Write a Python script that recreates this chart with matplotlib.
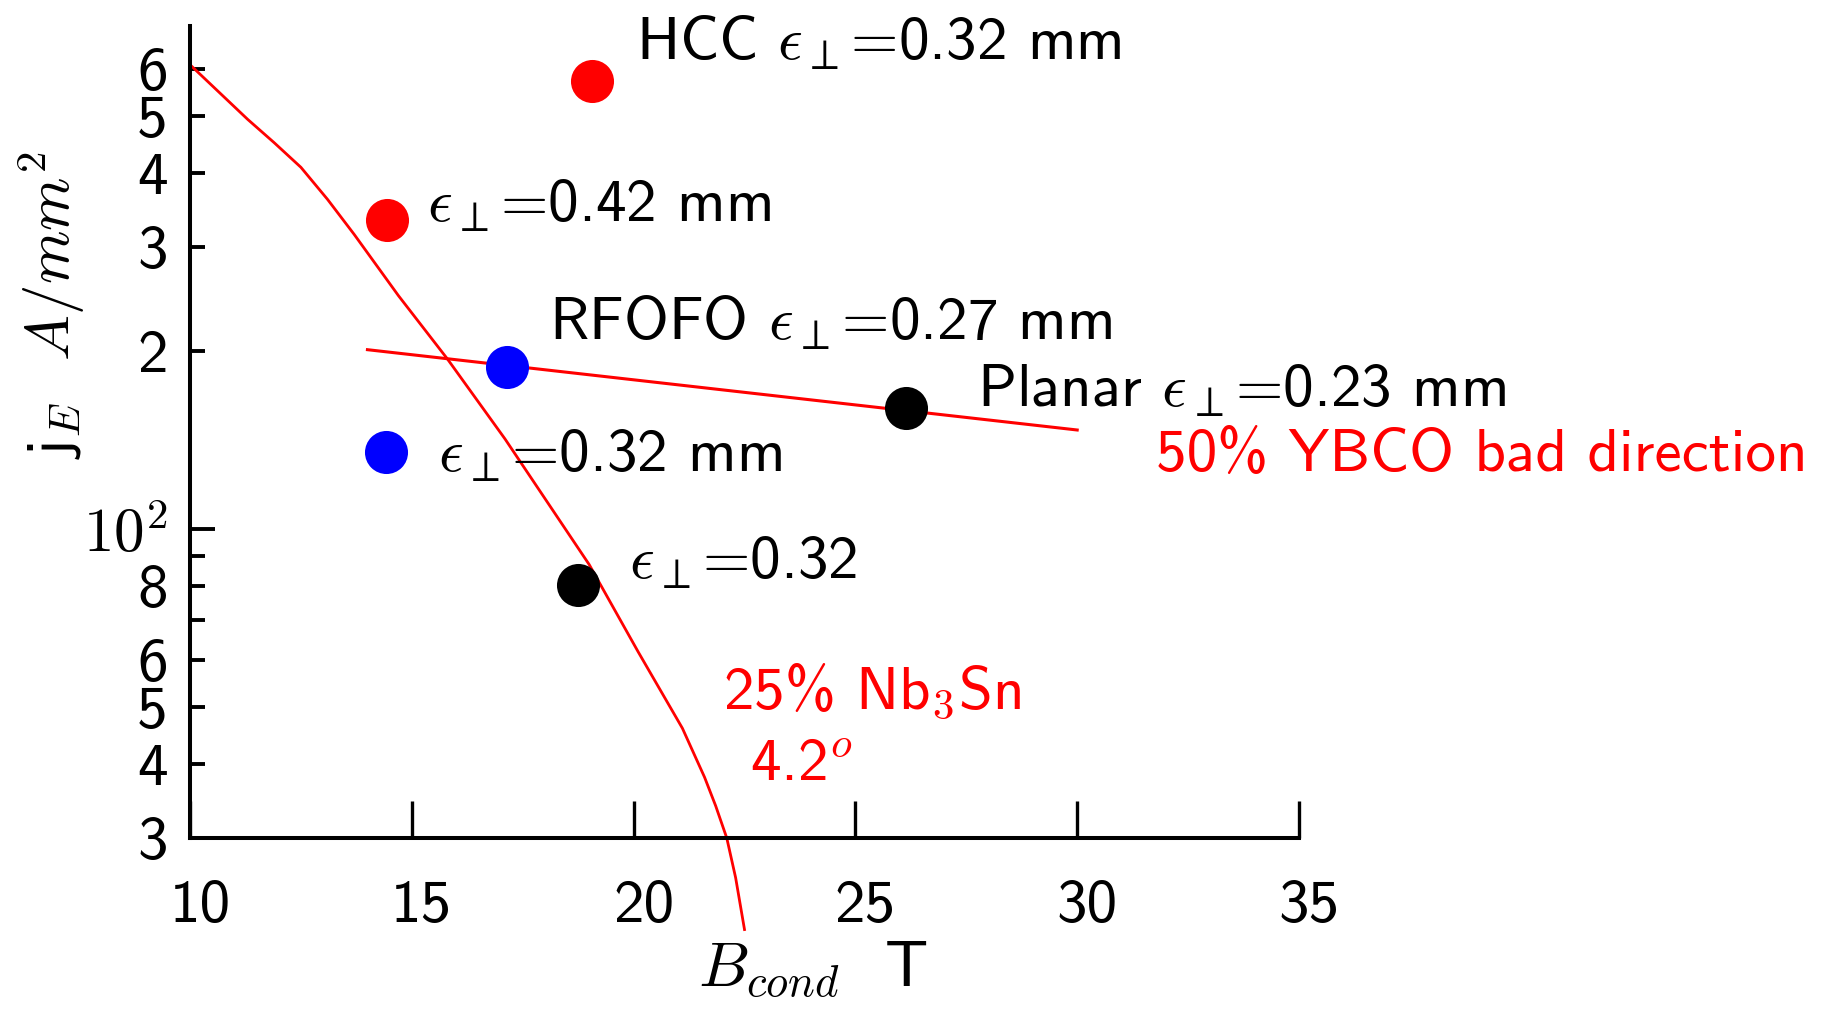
import matplotlib
matplotlib.use('Agg')
import matplotlib.pyplot as plt
import matplotlib.ticker as mticker
import matplotlib.transforms as mtransforms

plt.rcParams['font.family'] = 'cmss10'
plt.rcParams['mathtext.fontset'] = 'cm'
plt.rcParams['axes.unicode_minus'] = False
plt.rcParams['axes.formatter.use_mathtext'] = True

# 25% Nb3Sn at 4.2 K critical current curve
nb3sn_b = [10.0, 11.3, 11.9, 12.5, 13.1, 13.7, 14.7, 15.8, 17.1, 19.0, 20.1,
           21.1, 21.6, 21.85, 22.1, 22.3, 22.5]
nb3sn_j = [610, 493, 450, 409, 361, 315, 248, 194, 142, 87, 62,
           46, 38, 34, 30, 25.7, 21]

# 50% YBCO, bad direction
ybco_b = [14.0, 30.0]
ybco_j = [201, 147]

# lattice points: B_cond (T), j_E (A/mm^2)
pt_b = [19.06, 14.43, 17.14, 14.41, 26.15, 18.74]
pt_j = [572, 333, 188, 135, 160, 80.5]
pt_col = ['red', 'red', 'blue', 'blue', 'black', 'black']
pt_txt = [r'HCC $\epsilon_{\perp}$=0.32 mm',
          r'$\epsilon_{\perp}$=0.42 mm',
          r'RFOFO $\epsilon_{\perp}$=0.27 mm',
          r'$\epsilon_{\perp}$=0.32 mm',
          r'Planar $\epsilon_{\perp}$=0.23 mm',
          r'$\epsilon_{\perp}$=0.32']
txt_b = [20.05, 15.34, 18.10, 15.59, 27.75, 19.90]
txt_j = [622, 331, 209, 124.8, 161, 82.3]

x_ticks = [10, 15, 20, 25, 30, 35]
y_major = [100]
y_major_lab = [r'$10^{2}$']
y_minor = [30, 40, 50, 60, 70, 80, 90, 200, 300, 400, 500, 600]
y_minor_lab = ['3', '4', '5', '6', '', '8', '', '2', '3', '4', '5', '6']

FS = 44

fig = plt.figure(figsize=(18.27, 10.09), dpi=100)
ax = fig.add_axes([0.104, 0.1695, 0.607, 0.805])

ax.plot(nb3sn_b, nb3sn_j, color='red', lw=2, clip_on=False)
ax.plot(ybco_b, ybco_j, color='red', lw=2.2)
for b, j, c in zip(pt_b, pt_j, pt_col):
    ax.plot(b, j, 'o', color=c, ms=31, mec='none', zorder=3)
for b, j, t in zip(txt_b, txt_j, pt_txt):
    ax.text(b, j, t, fontsize=FS, va='baseline', ha='left')

ax.text(31.78, 125.3, '50% YBCO bad direction', color='red', fontsize=FS, va='baseline')
ax.text(22.02, 49.6, r'25% Nb$_3$Sn', color='red', fontsize=FS, va='baseline')
ax.text(22.62, 37.4, r'4.2$^{o}$', color='red', fontsize=FS, va='baseline')

ax.set_yscale('log')
ax.set_xlim(10, 35)
ax.set_ylim(30, 710)

ax.set_xticks(x_ticks)
ax.set_xticklabels([str(v) for v in x_ticks])
ax.yaxis.set_major_locator(mticker.FixedLocator(y_major))
ax.yaxis.set_major_formatter(mticker.FixedFormatter(y_major_lab))
ax.yaxis.set_minor_locator(mticker.FixedLocator(y_minor))
ax.yaxis.set_minor_formatter(mticker.FixedFormatter(y_minor_lab))

ax.tick_params(axis='x', direction='in', length=27, width=2.4, labelsize=FS, pad=30)
ax.tick_params(axis='y', which='major', direction='in', length=18, width=2.8, labelsize=FS, pad=16)
ax.tick_params(axis='y', which='minor', direction='in', length=11, width=2.8, labelsize=FS, pad=16)
ax.tick_params(top=False, right=False)

for s in ['top', 'right']:
    ax.spines[s].set_visible(False)
for s in ['left', 'bottom']:
    ax.spines[s].set_linewidth(2.9)

off = mtransforms.ScaledTranslation(0.1, 0, fig.dpi_scale_trans)
for lab in ax.get_xticklabels():
    lab.set_transform(lab.get_transform() + off)

ax.set_xlabel(r'$B_{cond}$  T', fontsize=FS + 2)
ax.xaxis.set_label_coords(0.561, -0.125)
ax.set_ylabel(r'j$_E$  $A/mm^2$', fontsize=FS)
ax.yaxis.set_label_coords(-0.093, 0.656)

fig.savefig('out.png', dpi=100)
